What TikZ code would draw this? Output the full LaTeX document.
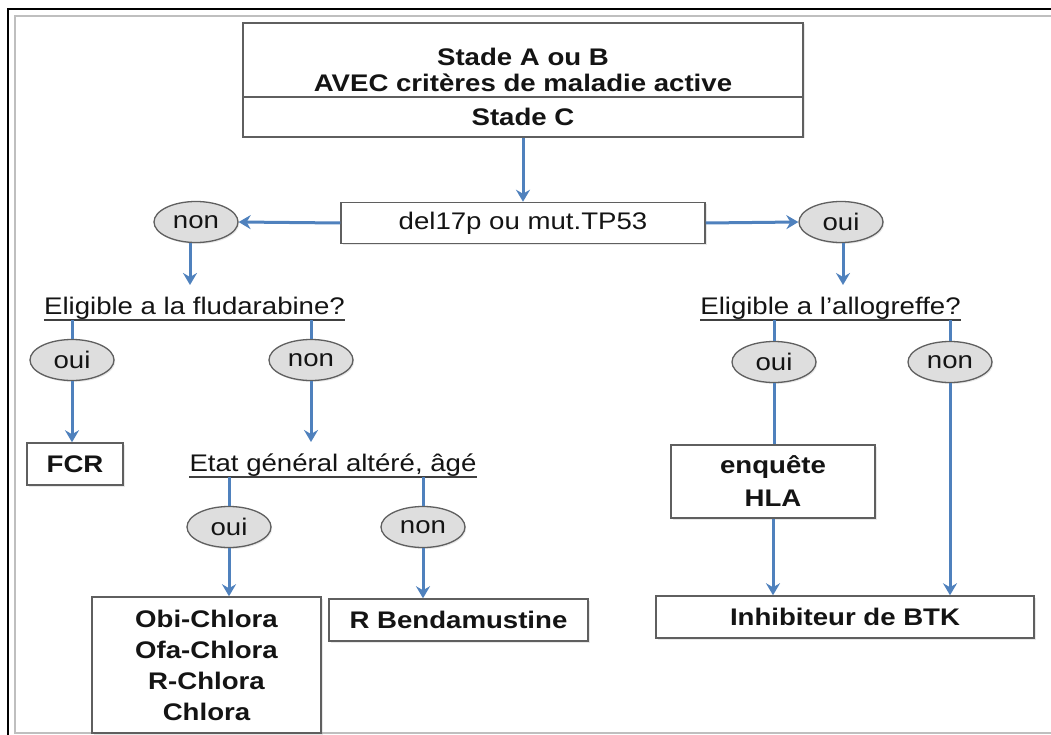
\documentclass[tikz,border=0pt]{standalone}
\usepackage{fontspec}
\setmainfont{Liberation Sans}[FakeStretch=1.15]
\usetikzlibrary{arrows.meta,shapes.geometric,shadows}
\definecolor{arrblue}{RGB}{79,129,189}
\definecolor{bord}{RGB}{95,95,95}
\definecolor{ellfill}{RGB}{222,222,222}
\definecolor{txt}{RGB}{20,20,20}
\begin{document}
\begin{tikzpicture}[x=1pt,y=-1pt,
  font=\fontsize{24}{30}\selectfont, text=txt,
  box/.style={draw=bord, line width=1.5pt, fill=white, inner sep=0pt,
    drop shadow={opacity=0.18,shadow xshift=1.5pt,shadow yshift=-1.5pt},
    align=center, font=\fontsize{24}{31}\selectfont\bfseries},
  oval/.style={ellipse, draw=bord, line width=1.3pt, fill=ellfill,
    minimum width=84pt, minimum height=41pt, inner sep=0pt,
    drop shadow={opacity=0.18,shadow xshift=1.2pt,shadow yshift=-1.5pt}},
  question/.style={inner xsep=0pt, inner ysep=0pt, text height=18pt, text depth=5pt, anchor=south},
  link/.style={draw=arrblue, line width=3pt},
  arrow/.style={link, -{Stealth[length=12pt,width=14pt,inset=4pt]}},
  uline/.style={draw=black!75, line width=1.3pt}
]
\useasboundingbox (0,0) rectangle (1051,735);
\fill[white] (0,0) rectangle (1051,735);
% frame
\draw[gray!50, line width=2pt] (1051,16) -- (15,16) -- (15,733) -- (1051,733);
\draw[black, line width=2.6pt] (8,735) -- (8,9) -- (1051,9);

% top box
\node[box, minimum width=560pt, minimum height=74pt] (top1) at (523,60) {};
\node[box, minimum width=560pt, minimum height=40pt] (top2) at (523,117) {Stade C};
\node[align=center, font=\fontsize{24}{25.5}\selectfont\bfseries, inner sep=0pt] (t1) at (523,70) {Stade A ou B\\AVEC critères de maladie active};

% del17p
\node[box, font=\fontsize{24}{30}\selectfont, minimum width=364pt, minimum height=41pt] (del) at (523,223) {del17p ou mut.TP53};

\node[oval] (non1) at (196,222) {non};
\node[oval] (oui1) at (841,222) {oui};

\node[question] (elig1) at (194.5,320) {Eligible a la fludarabine?};
\node[question] (elig2) at (830.5,320) {Eligible a l’allogreffe?};
\draw[uline] (elig1.south west) -- (elig1.south east);
\draw[uline] (elig2.south west) -- (elig2.south east);

\node[oval] (oui2) at (72,360) {oui};
\node[oval] (non2) at (311,360) {non};
\node[oval] (oui4) at (774,362) {oui};
\node[oval] (non4) at (950,362) {non};

\node[box, minimum width=96pt, minimum height=42pt] (fcr) at (75,464) {FCR};
\node[question] (etat) at (333,477) {Etat général altéré, âgé};
\draw[uline] (etat.south west) -- (etat.south east);

\node[oval] (oui3) at (229,527) {oui};
\node[oval] (non3) at (423,527) {non};

\node[box, minimum width=229pt, minimum height=136pt] (obi) at (206.5,665) {Obi-Chlora\\Ofa-Chlora\\R-Chlora\\Chlora};
\node[box, minimum width=259pt, minimum height=42pt] (rbend) at (458.5,620) {R Bendamustine};

\node[box, font=\fontsize{24}{33}\selectfont\bfseries, minimum width=204pt, minimum height=73pt] (enq) at (773,481.5) {enquête\\HLA};
\node[box, minimum width=378pt, minimum height=42pt] (btk) at (845,617) {Inhibiteur de BTK};

% connectors
\coordinate (a1) at (190,285);
\coordinate (a2) at (843,285);
\coordinate (a3) at (311,442);
\draw[arrow] (top2.south) -- (del.north);
\draw[arrow] (del.west) -- (non1.east);
\draw[arrow] (del.east) -- (oui1.west);
\draw[arrow] (non1.south -| a1) -- (a1);
\draw[arrow] (oui1.south -| a2) -- (a2);
\draw[link] (elig1.south -| oui2.north) -- (oui2.north);
\draw[link] (elig1.south -| non2.north) -- (non2.north);
\draw[link] (elig2.south -| oui4.north) -- (oui4.north);
\draw[link] (elig2.south -| non4.north) -- (non4.north);
\draw[arrow] (oui2.south) -- (oui2.south |- fcr.north);
\draw[arrow] (non2.south) -- (a3);
\draw[link] (etat.south -| oui3.north) -- (oui3.north);
\draw[link] (etat.south -| non3.north) -- (non3.north);
\draw[arrow] (oui3.south) -- (oui3.south |- obi.north);
\draw[arrow] (non3.south) -- (non3.south |- rbend.north);
\draw[link] (oui4.south) -- (oui4.south |- enq.north);
\draw[arrow] (enq.south) -- (enq.south |- btk.north);
\draw[arrow] (non4.south) -- (non4.south |- btk.north);
\end{tikzpicture}
\end{document}
